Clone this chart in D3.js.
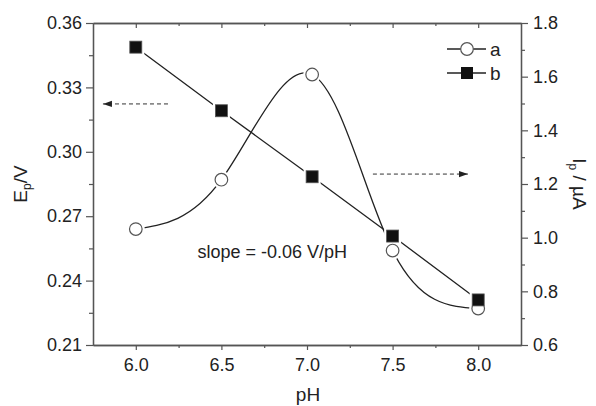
<!DOCTYPE html>
<html>
<head>
<meta charset="utf-8">
<script src="https://cdn.jsdelivr.net/npm/d3@7"></script>
<style>
  body { margin: 0; background: #fff; }
  svg { font-family: "Liberation Sans", Arial, sans-serif; }
</style>
</head>
<body>
<div class="container"></div>
<script>
// values
const ph = [6.0, 6.5, 7.03, 7.5, 8.0];
const epA = [0.264, 0.287, 0.336, 0.254, 0.227];   // series a, left axis (V)
const ipB = [1.71, 1.473, 1.227, 1.006, 0.768];    // series b, right axis (uA)
const xTicks = [6.0, 6.5, 7.0, 7.5, 8.0];
const xMinor = [6.25, 6.75, 7.25, 7.75];
const yLTicks = [0.21, 0.24, 0.27, 0.30, 0.33, 0.36];
const yLMinor = [0.225, 0.255, 0.285, 0.315, 0.345];
const yRTicks = [0.6, 0.8, 1.0, 1.2, 1.4, 1.6, 1.8];
const yRMinor = [0.7, 0.9, 1.1, 1.3, 1.5, 1.7];

const width = 596, height = 406;
const margin = {top: 23, right: 75, bottom: 61, left: 93};
const svg = d3.select(".container")
              .append("svg")
              .attr("width", width)
              .attr("height", height);

const x = d3.scaleLinear()
            .domain([5.75, 8.25])
            .range([margin.left, width - margin.right]);
const yL = d3.scaleLinear()
             .domain([0.21, 0.36])
             .range([height - margin.bottom, margin.top]);
const yR = d3.scaleLinear()
             .domain([0.6, 1.8])
             .range([height - margin.bottom, margin.top]);

const axisCol = "#555", textCol = "#222";
const pBottom = height - margin.bottom, pLeft = margin.left,
      pRight = width - margin.right, pTop = margin.top;

// axes: major + minor ticks
function styleAxis(g) {
    g.select(".domain").attr("stroke", axisCol).attr("stroke-width", 1.3);
    g.selectAll(".tick line").attr("stroke", axisCol).attr("stroke-width", 1.2);
    g.selectAll("text").attr("fill", textCol).attr("font-size", 18);
}

svg.append("g").attr("transform", `translate(0,${pBottom})`)
   .call(d3.axisBottom(x).tickValues(xMinor).tickSize(3).tickSizeOuter(0).tickFormat(""))
   .call(styleAxis);
svg.append("g").attr("transform", `translate(0,${pBottom})`)
   .call(d3.axisBottom(x).tickValues(xTicks).tickSize(5).tickSizeOuter(0).tickPadding(8).tickFormat(d3.format(".1f")))
   .call(styleAxis);
svg.append("g").attr("transform", `translate(0,${pTop})`)
   .call(d3.axisTop(x).tickValues(xMinor).tickSize(-3).tickSizeOuter(0).tickFormat(""))
   .call(styleAxis);
svg.append("g").attr("transform", `translate(0,${pTop})`)
   .call(d3.axisTop(x).tickValues(xTicks).tickSize(-5).tickSizeOuter(0).tickFormat(""))
   .call(styleAxis);
svg.append("g").attr("transform", `translate(${pLeft},0)`)
   .call(d3.axisLeft(yL).tickValues(yLMinor).tickSize(4).tickSizeOuter(0).tickFormat(""))
   .call(styleAxis);
svg.append("g").attr("transform", `translate(${pLeft},0)`)
   .call(d3.axisLeft(yL).tickValues(yLTicks).tickSize(7).tickSizeOuter(0).tickPadding(4).tickFormat(d3.format(".2f")))
   .call(styleAxis);
svg.append("g").attr("transform", `translate(${pRight},0)`)
   .call(d3.axisRight(yR).tickValues(yRMinor).tickSize(4).tickSizeOuter(0).tickFormat(""))
   .call(styleAxis);
svg.append("g").attr("transform", `translate(${pRight},0)`)
   .call(d3.axisRight(yR).tickValues(yRTicks).tickSize(7).tickSizeOuter(0).tickPadding(5).tickFormat(d3.format(".1f")))
   .call(styleAxis);

// axis titles
svg.append("text")
   .attr("x", (pLeft + pRight) / 2 + 1).attr("y", 401)
   .attr("text-anchor", "middle").attr("font-size", 19).attr("fill", textCol)
   .text("pH");
const yt = svg.append("text")
   .attr("transform", `translate(27,${(pTop + pBottom) / 2}) rotate(-90)`)
   .attr("text-anchor", "middle").attr("font-size", 19).attr("fill", textCol);
yt.append("tspan").text("E");
yt.append("tspan").attr("font-size", 12).attr("dy", 4).text("p");
yt.append("tspan").attr("dy", -4).text("/V");
const yt2 = svg.append("text")
   .attr("transform", `translate(573,${(pTop + pBottom) / 2}) rotate(90)`)
   .attr("text-anchor", "middle").attr("font-size", 19).attr("fill", textCol);
yt2.append("tspan").text("I");
yt2.append("tspan").attr("font-size", 12).attr("dy", 4).text("p");
yt2.append("tspan").attr("dy", -4).text(" / µA");

// series lines
const ptsA = ph.map((p, i) => [x(p), yL(epA[i])]);
const ptsB = ph.map((p, i) => [x(p), yR(ipB[i])]);
svg.append("path")
   .attr("d", d3.line().curve(d3.curveNatural)(ptsA))
   .attr("fill", "none").attr("stroke", "#222").attr("stroke-width", 1.3);
svg.append("path")
   .attr("d", d3.line()(ptsB))
   .attr("fill", "none").attr("stroke", "#222").attr("stroke-width", 1.3);

// white gaps around markers
svg.selectAll("circle.haloA").data(ptsA).join("circle")
   .attr("class", "haloA")
   .attr("cx", d => d[0]).attr("cy", d => d[1]).attr("r", 9).attr("fill", "#fff");
svg.selectAll("rect.haloB").data(ptsB).join("rect")
   .attr("class", "haloB")
   .attr("x", d => d[0] - 8.5).attr("y", d => d[1] - 8.5)
   .attr("width", 17).attr("height", 17).attr("fill", "#fff");

// markers
svg.selectAll("circle.a").data(ptsA).join("circle")
   .attr("class", "a")
   .attr("cx", d => d[0]).attr("cy", d => d[1]).attr("r", 6.3)
   .attr("fill", "#fff").attr("stroke", "#555").attr("stroke-width", 1.2);
svg.selectAll("rect.b").data(ptsB).join("rect")
   .attr("class", "b")
   .attr("x", d => d[0] - 6).attr("y", d => d[1] - 6)
   .attr("width", 12).attr("height", 12)
   .attr("fill", "#111").attr("stroke", "#555").attr("stroke-width", 0.8);

// legend
const lg = [{label: "a", y: 49}, {label: "b", y: 73}];
lg.forEach((d, i) => {
    svg.append("line").attr("x1", 447).attr("x2", 486).attr("y1", d.y).attr("y2", d.y)
       .attr("stroke", "#222").attr("stroke-width", 1.3);
    if (i === 0) {
        svg.append("circle").attr("cx", 467).attr("cy", d.y).attr("r", 6.3)
           .attr("fill", "#fff").attr("stroke", "#555").attr("stroke-width", 1.2);
    } else {
        svg.append("rect").attr("x", 461).attr("y", d.y - 6).attr("width", 12).attr("height", 12)
           .attr("fill", "#111");
    }
    svg.append("text").attr("x", 490).attr("y", d.y + 7)
       .attr("font-size", 19).attr("fill", textCol).text(d.label);
});

// dashed arrows
svg.append("defs").append("marker")
   .attr("id", "ah").attr("viewBox", "0 0 10 10").attr("refX", 10).attr("refY", 5)
   .attr("markerWidth", 9).attr("markerHeight", 9).attr("markerUnits", "userSpaceOnUse")
   .attr("orient", "auto")
   .append("path").attr("d", "M0,1.5L10,5L0,8.5Z").attr("fill", "#222");
svg.append("line")
   .attr("x1", x(6.188)).attr("x2", x(5.808)).attr("y1", yL(0.3223)).attr("y2", yL(0.3223))
   .attr("stroke", "#333").attr("stroke-dasharray", "4,3").attr("marker-end", "url(#ah)");
svg.append("line")
   .attr("x1", x(7.385)).attr("x2", x(7.94)).attr("y1", yR(1.237)).attr("y2", yR(1.237))
   .attr("stroke", "#333").attr("stroke-dasharray", "4,3").attr("marker-end", "url(#ah)");

// annotation
svg.append("text")
   .attr("x", x(6.36)).attr("y", yL(0.2503))
   .attr("font-size", 18).attr("fill", textCol)
   .text("slope = -0.06 V/pH");
</script>
</body>
</html>
